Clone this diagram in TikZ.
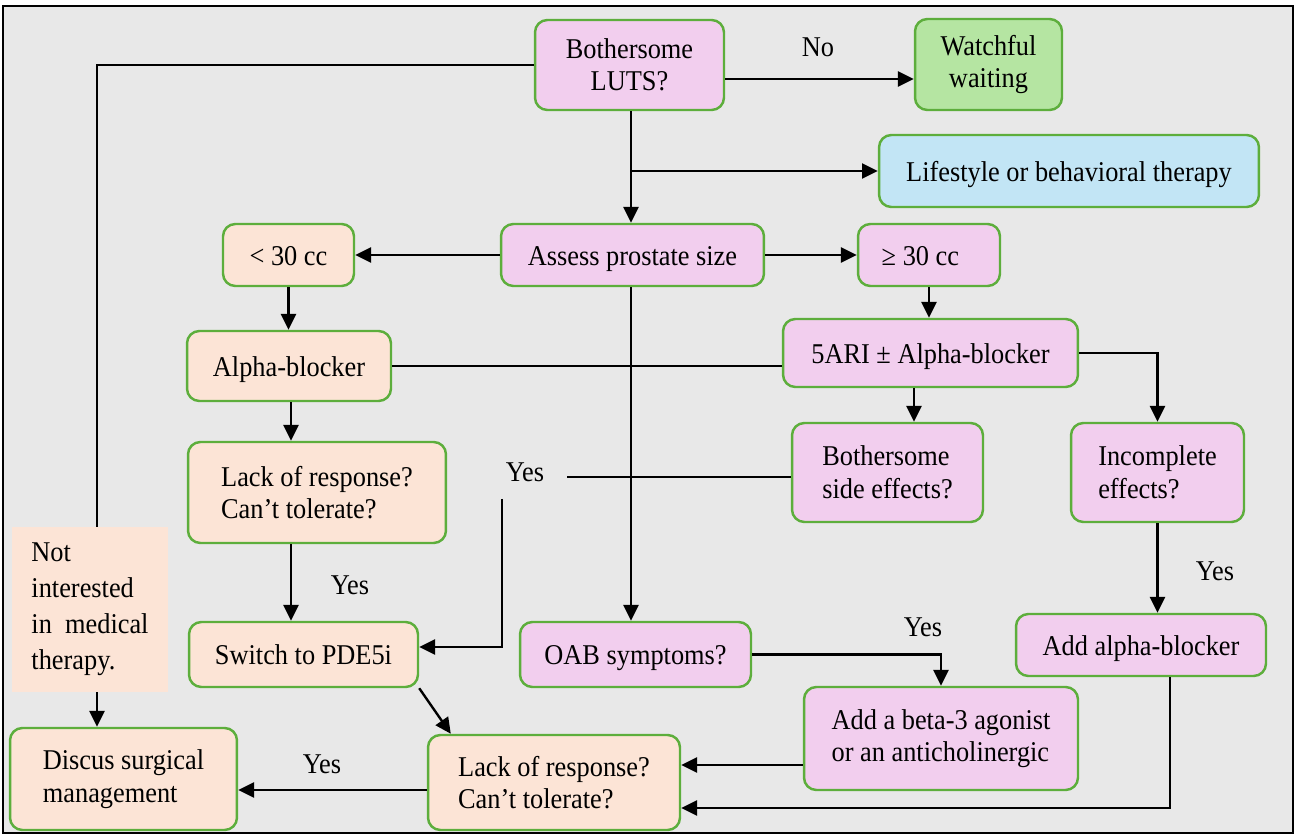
\documentclass[tikz,border=0pt]{standalone}
\usepackage{fontspec}
\setmainfont{Liberation Serif}[FakeStretch=0.92]
\usetikzlibrary{arrows.meta}
\definecolor{bgc}{HTML}{E8E8E8}
\definecolor{bord}{HTML}{5DAE3C}
\definecolor{pinkc}{HTML}{F2CEEE}
\definecolor{peachc}{HTML}{FCE4D6}
\definecolor{greenc}{HTML}{B5E5A2}
\definecolor{bluec}{HTML}{C2E5F5}
\tikzset{
  box/.style={draw=bord, line width=1.4pt, rounded corners=7pt, inner sep=0pt, align=center},
  pinkbox/.style={box, fill=pinkc},
  peachbox/.style={box, fill=peachc},
  greenbox/.style={box, fill=greenc},
  bluebox/.style={box, fill=bluec},
  oneline/.style={text height=11.5pt, text depth=0pt},
  arr/.style={-{Triangle[length=9pt,width=8.5pt]}, line width=1.35pt},
  ln/.style={line width=1.35pt},
  lbl/.style={inner sep=0pt}
}
\begin{document}
\begin{tikzpicture}[x=0.02cm,y=-0.02cm, font=\fontsize{16.3}{18.5}\selectfont]
\useasboundingbox (0,0) rectangle (1296,834);
\fill[white] (0,0) rectangle (1296,834);
\draw[line width=1.3pt, fill=bgc] (3,6) rectangle (1293,833);

% nodes
\node[pinkbox, minimum width=3.78cm, minimum height=1.8cm] (luts) at (629.5,65) {Bothersome\\LUTS?};
\node[greenbox, minimum width=2.94cm, minimum height=1.82cm] (watch) at (988.5,64.5) {Watchful\\waiting};
\node[bluebox, oneline, minimum width=7.6cm, minimum height=1.44cm] (life) at (1069,171) {Lifestyle or behavioral therapy};
\node[pinkbox, oneline, minimum width=5.26cm, minimum height=1.24cm] (assess) at (632.5,255) {Assess prostate size};
\node[pinkbox, oneline, minimum width=2.84cm, minimum height=1.24cm] (ge) at (929,255) {≥ 30 cc\hspace{0.6em}};
\node[peachbox, oneline, minimum width=2.62cm, minimum height=1.24cm] (lt) at (288.5,255) {< 30 cc};
\node[peachbox, oneline, minimum width=4.08cm, minimum height=1.4cm] (alpha) at (289,366) {Alpha-blocker};
\node[peachbox, minimum width=5.16cm, minimum height=2.02cm, align=left] (lack1) at (317,492.5) {Lack of response?\\Can’t tolerate?};
\node[fill=peachc, inner sep=0pt, minimum width=3.12cm, minimum height=3.3cm, align=left, font=\fontsize{16.3}{20.5}\selectfont] (notint) at (90,609.5) {Not\\interested\\in\ \ medical\\therapy.};
\node[peachbox, oneline, minimum width=4.58cm, minimum height=1.3cm] (switch) at (303.5,654.5) {Switch to PDE5i};
\node[peachbox, minimum width=4.54cm, minimum height=2.04cm, align=left] (discus) at (123.5,779) {Discus surgical\\management};
\node[peachbox, minimum width=5.04cm, minimum height=1.9cm, align=left] (lack2) at (554,782.5) {Lack of response?\\Can’t tolerate?};
\node[pinkbox, oneline, minimum width=4.62cm, minimum height=1.3cm] (oab) at (635.5,654.5) {OAB symptoms?};
\node[pinkbox, oneline, minimum width=5.9cm, minimum height=1.36cm] (fari) at (930.5,353) {5ARI ± Alpha-blocker};
\node[pinkbox, minimum width=3.82cm, minimum height=1.98cm, align=left] (side) at (887.5,472.5) {Bothersome\\side effects?};
\node[pinkbox, minimum width=3.46cm, minimum height=1.98cm, align=left] (incomp) at (1157.5,472.5) {Incomplete\\effects?};
\node[pinkbox, oneline, minimum width=5.0cm, minimum height=1.24cm] (addalpha) at (1141,645) {Add alpha-blocker};
\node[pinkbox, minimum width=5.48cm, minimum height=2.06cm, align=left] (beta) at (941,738.5) {Add a beta-3 agonist\\or an anticholinergic};

% labels
\node[lbl] (no) at (818,47) {No};
\node[lbl] (yes1) at (350,585) {Yes};
\node[lbl] (yes2) at (525,472) {Yes};
\node[lbl] (yes3) at (1215,571) {Yes};
\node[lbl] (yes4) at (923,627) {Yes};
\node[lbl] (yes5) at (322,764) {Yes};

% helper coordinates
\coordinate (c97) at (97,0);
\coordinate (c631) at (631,0);
\coordinate (c291) at (291,0);
\coordinate (c914) at (914,0);
\coordinate (cy79) at (0,79);
\coordinate (cy366) at (0,366);
\coordinate (cy647) at (0,647);
\coordinate (cy765) at (0,765);
\coordinate (cy790) at (0,790);
\coordinate (ys1) at (567,477);
\coordinate (ys2) at (502,499);
\coordinate (c1170) at (1170,808);

% connectors
\draw[ln] (luts.west) -| (c97 |- notint.north);
\draw[arr] (c97 |- notint.south) -- (c97 |- discus.north);
\draw[arr] (luts.east |- cy79) -- (watch.west |- cy79);
\draw[arr] (c631 |- luts.south) -- (c631 |- assess.north);
\draw[arr] (c631 |- life.west) -- (life.west);
\draw[arr] (assess.west) -- (lt.east);
\draw[arr] (assess.east) -- (ge.west);
\draw[arr] (lt.south) -- (lt.south |- alpha.north);
\draw[arr] (ge.south) -- (ge.south |- fari.north);
\draw[ln] (alpha.east |- cy366) -- (fari.west |- cy366);
\draw[arr] (c631 |- assess.south) -- (c631 |- oab.north);
\draw[arr] (c291 |- alpha.south) -- (c291 |- lack1.north);
\draw[arr] (c291 |- lack1.south) -- (c291 |- switch.north);
\draw[ln] (side.west |- ys1) -- (ys1);
\draw[arr] (ys2) |- (switch.east |- cy647);
\draw[arr] (c914 |- fari.south) -- (c914 |- side.north);
\draw[arr] (fari.east) -| (incomp.north);
\draw[arr] (incomp.south) -- (incomp.south |- addalpha.north);
\draw[arr] (oab.east) -| (beta.north);
\draw[arr] (beta.west |- cy765) -- (lack2.east |- cy765);
\draw[arr] (c1170 |- addalpha.south) -- (c1170) -- (lack2.east |- c1170);
\draw[arr] (switch.south east) -- ([xshift=0.48cm]lack2.north west);
\draw[arr] (lack2.west |- cy790) -- (discus.east |- cy790);
\end{tikzpicture}
\end{document}
